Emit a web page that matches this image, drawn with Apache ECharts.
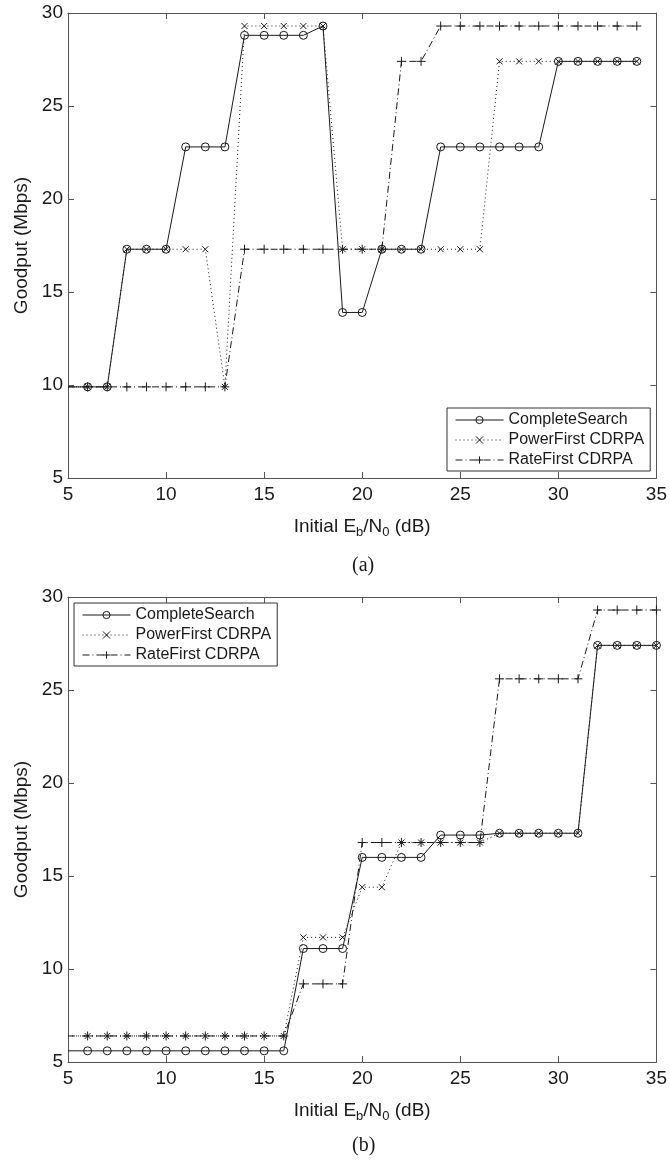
<!DOCTYPE html>
<html>
<head>
<meta charset="utf-8">
<script src="https://cdn.jsdelivr.net/npm/echarts@6/dist/echarts.min.js"></script>
<style>
  html, body { margin: 0; padding: 0; background: #fff; }
  #chart { width: 670px; height: 1160px; }
</style>
</head>
<body>
<div id="chart"></div>
<script>
// x positions (dB); first point is only the line lead-in from the axis
const ebTop = [5, 6, 7, 8, 9, 10, 11, 12, 13, 14, 15, 16, 17, 18, 19, 20, 21, 22, 23, 24, 25, 26, 27, 28, 29, 30, 31, 32, 33, 34]
const ebBottom = [5, 6, 7, 8, 9, 10, 11, 12, 13, 14, 15, 16, 17, 18, 19, 20, 21, 22, 23, 24, 25, 26, 27, 28, 29, 30, 31, 32, 33, 34, 35]

// (a)
const completeA = [9.9, 9.9, 9.9, 17.3, 17.3, 17.3, 22.8, 22.8, 22.8, 28.8, 28.8, 28.8, 28.8, 29.3, 13.9, 13.9, 17.3, 17.3, 17.3, 22.8, 22.8, 22.8, 22.8, 22.8, 22.8, 27.4, 27.4, 27.4, 27.4, 27.4]
const powerA = [9.9, 9.9, 9.9, 17.3, 17.3, 17.3, 17.3, 17.3, 9.9, 29.3, 29.3, 29.3, 29.3, 29.3, 17.3, 17.3, 17.3, 17.3, 17.3, 17.3, 17.3, 17.3, 27.4, 27.4, 27.4, 27.4, 27.4, 27.4, 27.4, 27.4]
const rateA = [9.9, 9.9, 9.9, 9.9, 9.9, 9.9, 9.9, 9.9, 9.9, 17.3, 17.3, 17.3, 17.3, 17.3, 17.3, 17.3, 17.3, 27.4, 27.4, 29.3, 29.3, 29.3, 29.3, 29.3, 29.3, 29.3, 29.3, 29.3, 29.3, 29.3]

// (b)
const completeB = [5.6, 5.6, 5.6, 5.6, 5.6, 5.6, 5.6, 5.6, 5.6, 5.6, 5.6, 5.6, 11.1, 11.1, 11.1, 16.0, 16.0, 16.0, 16.0, 17.2, 17.2, 17.2, 17.3, 17.3, 17.3, 17.3, 17.3, 27.4, 27.4, 27.4, 27.4]
const powerB = [6.4, 6.4, 6.4, 6.4, 6.4, 6.4, 6.4, 6.4, 6.4, 6.4, 6.4, 6.4, 11.7, 11.7, 11.7, 14.4, 14.4, 16.8, 16.8, 16.8, 16.8, 16.8, 17.3, 17.3, 17.3, 17.3, 17.3, 27.4, 27.4, 27.4, 27.4]
const rateB = [6.4, 6.4, 6.4, 6.4, 6.4, 6.4, 6.4, 6.4, 6.4, 6.4, 6.4, 6.4, 9.2, 9.2, 9.2, 16.8, 16.8, 16.8, 16.8, 16.8, 16.8, 16.8, 25.6, 25.6, 25.6, 25.6, 25.6, 29.3, 29.3, 29.3, 29.3]

const names = ['CompleteSearch', 'PowerFirst CDRPA', 'RateFirst CDRPA']
const yTicks = [5, 10, 15, 20, 25, 30]
const xTicks = [5, 10, 15, 20, 25, 30, 35]

const INK = '#1a1a1a'
const FRAME = '#555'
const FONT = '"Liberation Sans", Arial, sans-serif'

const SYMBOL_X = 'path://M0,0L10,10M10,0L0,10'
const SYMBOL_PLUS = 'path://M5,0L5,10M0,5L10,5'

const styles = [
    { symbol: 'circle', size: 8, line: 'solid' },
    { symbol: SYMBOL_X, size: 6, line: [1, 3] },
    { symbol: SYMBOL_PLUS, size: 9, line: [7, 3, 1, 3] }
]

const pairs = (xs, ys) => xs.map((x, i) => i === 0 ? { value: [x, ys[i]], symbol: 'none' } : [x, ys[i]])

const makeSeries = (k, xs, ys, gi) => ({
    name: names[k],
    type: 'line',
    xAxisIndex: gi * 2,
    yAxisIndex: gi * 2,
    data: pairs(xs, ys),
    symbol: styles[k].symbol,
    symbolSize: styles[k].size,
    showAllSymbol: true,
    lineStyle: { color: INK, width: 1, type: styles[k].line },
    itemStyle: { color: 'rgba(0,0,0,0)', borderColor: INK, borderWidth: 1 },
    emphasis: { disabled: true },
    animation: false,
    z: 3 + k
})

const xAxes = gi => [
    {
        type: 'value', gridIndex: gi, min: 5, max: 35, interval: 5, position: 'bottom',
        axisLine: { lineStyle: { color: FRAME } },
        axisTick: { inside: true, length: 6, lineStyle: { color: FRAME } },
        splitLine: { show: false },
        axisLabel: { color: INK, fontSize: 19, fontFamily: FONT, margin: 7,
            formatter: v => xTicks.includes(v) ? String(v) : '' },
        name: '{a|Initial E}{s|b}{a|/N}{s|0}{a| (dB)}',
        nameLocation: 'middle', nameGap: 39,
        nameTextStyle: {
            rich: {
                a: { fontSize: 19, fontFamily: FONT, color: INK, verticalAlign: 'top', lineHeight: 22 },
                s: { fontSize: 13, fontFamily: FONT, color: INK, verticalAlign: 'top', lineHeight: 22, padding: [9, 0, 0, 0] }
            }
        }
    },
    {
        type: 'value', gridIndex: gi, min: 5, max: 35, interval: 5, position: 'top',
        axisLine: { lineStyle: { color: FRAME } },
        axisTick: { inside: true, length: 6, lineStyle: { color: FRAME } },
        splitLine: { show: false }, axisLabel: { show: false }
    }
]

const yAxes = gi => [
    {
        type: 'value', gridIndex: gi, min: 5, max: 30, interval: 5, position: 'left',
        axisLine: { show: true, lineStyle: { color: FRAME } },
        axisTick: { show: true, inside: true, length: 6, lineStyle: { color: FRAME } },
        splitLine: { show: false },
        axisLabel: { color: INK, fontSize: 19, fontFamily: FONT, margin: 5,
            formatter: v => yTicks.includes(v) ? String(v) : '' },
        name: 'Goodput (Mbps)', nameLocation: 'middle', nameGap: 37,
        nameTextStyle: { fontSize: 19, fontFamily: FONT, color: INK }
    },
    {
        type: 'value', gridIndex: gi, min: 5, max: 30, interval: 5, position: 'right',
        axisLine: { show: true, lineStyle: { color: FRAME } },
        axisTick: { show: true, inside: true, length: 6, lineStyle: { color: FRAME } },
        splitLine: { show: false }, axisLabel: { show: false }
    }
]

const legendBase = {
    orient: 'vertical',
    data: names,
    itemWidth: 48,
    itemHeight: 9,
    itemGap: 0,
    padding: [2, 6, 1, 8],
    borderColor: '#333',
    borderWidth: 1,
    borderRadius: 0,
    backgroundColor: '#fff',
    selectedMode: false,
    itemStyle: { borderWidth: 1, borderColor: INK, color: 'rgba(0,0,0,0)' },
    lineStyle: { width: 1, color: INK },
    textStyle: { fontSize: 16, fontFamily: FONT, color: INK, lineHeight: 20, padding: [0, 0, 0, 0] }
}

const chart = echarts.init(document.getElementById('chart'), null, { renderer: 'canvas' })

chart.setOption({
    backgroundColor: '#fff',
    animation: false,
    grid: [
        { left: 68, top: 13, width: 590, height: 465 },
        { left: 68, top: 597, width: 590, height: 465 }
    ],
    xAxis: [...xAxes(0), ...xAxes(1)],
    yAxis: [...yAxes(0), ...yAxes(1)],
    legend: [
        { ...legendBase, left: 447, top: 408 },
        { ...legendBase, left: 74, top: 603 }
    ],
    series: [
        makeSeries(0, ebTop, completeA, 0),
        makeSeries(1, ebTop, powerA, 0),
        makeSeries(2, ebTop, rateA, 0),
        makeSeries(0, ebBottom, completeB, 1),
        makeSeries(1, ebBottom, powerB, 1),
        makeSeries(2, ebBottom, rateB, 1)
    ],
    graphic: [
        { type: 'text', left: 352, top: 556, style: { text: '(a)', fontSize: 20, fontFamily: '"Liberation Serif", "Times New Roman", serif', fill: INK } },
        { type: 'text', left: 352, top: 1136, style: { text: '(b)', fontSize: 20, fontFamily: '"Liberation Serif", "Times New Roman", serif', fill: INK } }
    ]
})
</script>
</body>
</html>
